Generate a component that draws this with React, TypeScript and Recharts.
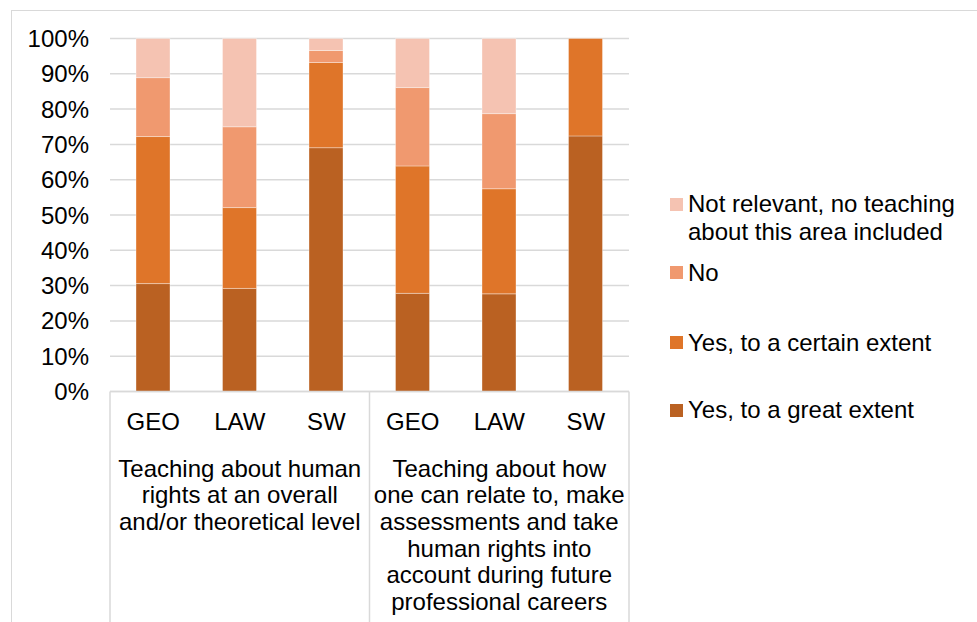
import React from 'react';
import { BarChart, Bar, XAxis, YAxis, CartesianGrid } from 'recharts';

// ---- data ----
const categoryIds = ['hr-GEO', 'hr-LAW', 'hr-SW', 'prof-GEO', 'prof-LAW', 'prof-SW'];
const subLabels = ['GEO', 'LAW', 'SW', 'GEO', 'LAW', 'SW'];
const groupOf = [0, 0, 0, 1, 1, 1];
const groupLabels = [
  ['Teaching about human', 'rights at an overall', 'and/or theoretical level'],
  [
    'Teaching about how',
    'one can relate to, make',
    'assessments and take',
    'human rights into',
    'account during future',
    'professional careers',
  ],
];
const greatExtent = [30.6, 29.2, 69.0, 27.8, 27.7, 72.4];
const certainExtent = [41.7, 22.9, 24.1, 36.1, 29.8, 27.6];
const noValues = [16.7, 22.9, 3.4, 22.2, 21.3, 0];
const notRelevant = [11.1, 25.0, 3.4, 13.9, 21.3, 0];
const yTicks = [0, 0.1, 0.2, 0.3, 0.4, 0.5, 0.6, 0.7, 0.8, 0.9, 1];

const seriesKeys = ['great', 'certain', 'no', 'nr'];
const seriesNames = [
  'Yes, to a great extent',
  'Yes, to a certain extent',
  'No',
  'Not relevant, no teaching about this area included',
];
const seriesColors = ['#BA6122', '#DF7529', '#F0996F', '#F5C3B2'];

const data = categoryIds.map((id, i) => ({
  id,
  great: greatExtent[i],
  certain: certainExtent[i],
  no: noValues[i],
  nr: notRelevant[i],
}));

// ---- layout / style ----
const FONT = '"Liberation Sans", Arial, sans-serif';
const FS = 24;
const GRID = '#D9D9D9';
const legendTops = [190, 258.5, 328.5, 396]; // top-to-bottom: nr, no, certain, great

const XTick = (props: any) => {
  const { y, payload, index } = props;
  const cx = payload.coordinate;
  const half = payload.offset || 0;
  const g = groupOf[index];
  const isFirst = index === 0 || groupOf[index - 1] !== g;
  const isLast = index === groupOf.length - 1;
  const groupSize = groupOf.filter((v) => v === g).length;
  const left = cx - half;
  const els: any[] = [];
  els.push(
    <text key="s" x={cx} y={y + 38.5} textAnchor="middle" fontSize={FS} fontFamily={FONT} fill="#000">
      {subLabels[index]}
    </text>
  );
  if (isFirst) {
    els.push(<line key="l" x1={left} x2={left} y1={y} y2={y + 260} stroke={GRID} strokeWidth={1.5} />);
    const gx = left + groupSize * half;
    groupLabels[g].forEach((ln, k) => {
      els.push(
        <text key={'g' + k} x={gx} y={y + 85 + k * 26.7} textAnchor="middle" fontSize={FS} fontFamily={FONT} fill="#000">
          {ln}
        </text>
      );
    });
  }
  if (isLast) {
    els.push(<line key="r" x1={cx + half} x2={cx + half} y1={y} y2={y + 260} stroke={GRID} strokeWidth={1.5} />);
  }
  return <g>{els}</g>;
};

export default function App() {
  const legendOrder = [3, 2, 1, 0];
  return (
    <div
      style={{
        position: 'absolute',
        left: 0,
        top: 0,
        width: 977,
        height: 622,
        overflow: 'hidden',
        background: '#fff',
        fontFamily: FONT,
      }}
    >
      <div
        style={{
          position: 'absolute',
          left: 10.5,
          top: 9.5,
          width: 1000,
          height: 700,
          border: '1px solid ' + GRID,
        }}
      />
      <div style={{ position: 'absolute', left: 0, top: 0 }}>
        <BarChart
          width={977}
          height={622}
          data={data}
          stackOffset="expand"
          margin={{ top: 38.5, right: 348, bottom: 0, left: 0 }}
        >
          <CartesianGrid vertical={false} stroke={GRID} strokeWidth={1.5} />
          <YAxis
            width={110}
            ticks={yTicks}
            domain={[0, 1]}
            axisLine={false}
            tickLine={false}
            tickSize={0}
            tickMargin={21}
            tickFormatter={(v: number) => Math.round(v * 100) + '%'}
            tick={{ fill: '#000', fontSize: FS, fontFamily: FONT }}
          />
          <XAxis
            dataKey="id"
            height={230.5}
            interval={0}
            tickLine={false}
            tickSize={0}
            tickMargin={0}
            axisLine={{ stroke: GRID, strokeWidth: 1.5 }}
            tick={(p: any) => <XTick {...p} />}
          />
          {seriesKeys.map((k, i) => (
            <Bar
              key={k}
              dataKey={k}
              name={seriesNames[i]}
              stackId="a"
              fill={seriesColors[i]}
              stroke="rgba(255,255,255,0.35)"
              strokeWidth={1}
              barSize={34}
              isAnimationActive={false}
            />
          ))}
        </BarChart>
      </div>
      {legendOrder.map((si, j) => (
        <div
          key={si}
          style={{
            position: 'absolute',
            left: 670,
            top: legendTops[j],
            display: 'flex',
            alignItems: 'flex-start',
          }}
        >
          <div
            style={{
              width: 13,
              height: 13,
              marginTop: 7.5,
              marginRight: 5,
              background: seriesColors[si],
              flex: 'none',
            }}
          />
          <div style={{ width: 280, fontSize: FS, lineHeight: '28px', color: '#000' }}>{seriesNames[si]}</div>
        </div>
      ))}
    </div>
  );
}
